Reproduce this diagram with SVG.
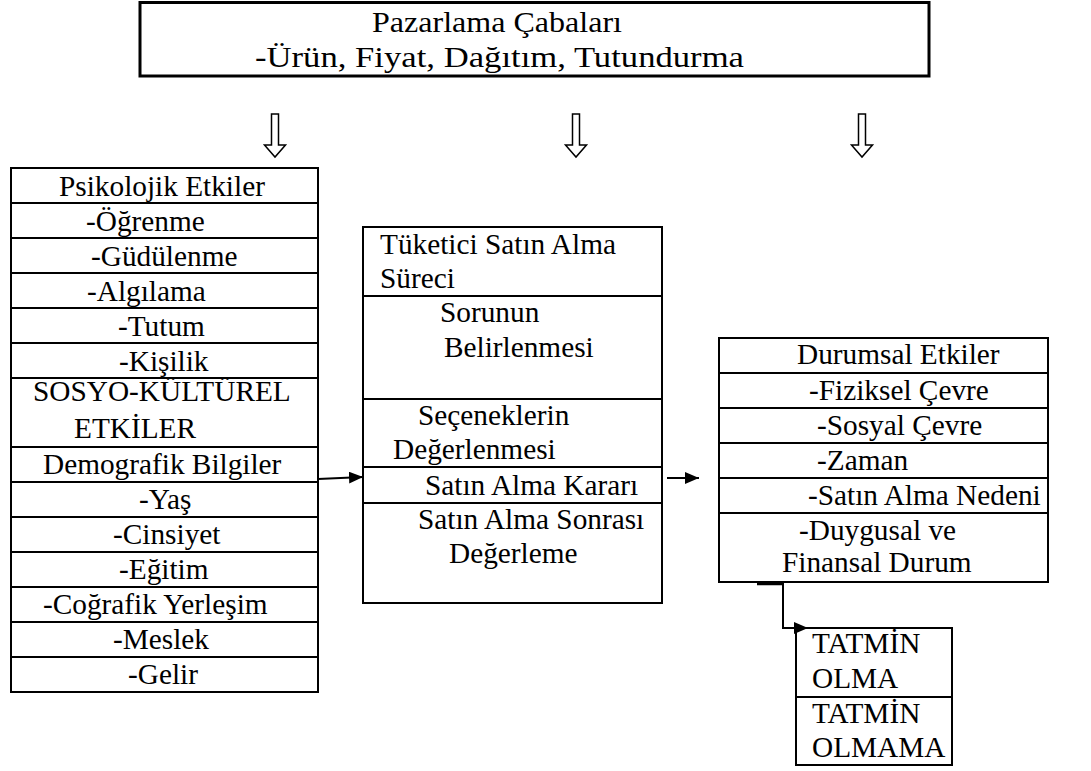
<svg xmlns="http://www.w3.org/2000/svg" width="1091" height="771" viewBox="0 0 1091 771">
  <style>
    text { font-family: 'Liberation Serif', 'Times New Roman', serif; font-size: 29.3px; fill: #000; }
    .box { fill: #fff; stroke: #000; stroke-width: 2; }
    .rule { stroke: #000; stroke-width: 2; fill: none; }
    .hollow { fill: #fff; stroke: #000; stroke-width: 1.5; stroke-linejoin: miter; }
    .conn { stroke: #000; stroke-width: 2; fill: none; }
  </style>
  <defs>
    <marker id="head" viewBox="0 0 14 12" refX="14" refY="6" markerWidth="14" markerHeight="12" markerUnits="userSpaceOnUse" orient="auto">
      <path d="M0,0 L14,6 L0,12 Z" fill="#000"/>
    </marker>
  </defs>

  <rect width="1091" height="771" fill="#fff"/>

  <!-- Marketing efforts header -->
  <g id="pazarlama">
    <rect x="140" y="2.5" width="789" height="73.5" fill="#fff" stroke="#000" stroke-width="3"/>
    <text x="372" y="32" font-size="33" textLength="250" lengthAdjust="spacingAndGlyphs">Pazarlama Çabaları</text>
    <text x="255" y="67" font-size="33" textLength="489" lengthAdjust="spacingAndGlyphs">-Ürün, Fiyat, Dağıtım, Tutundurma</text>
  </g>

  <!-- Hollow downward arrows -->
  <g id="ok1"><path class="hollow" d="M271.5,114 H278.5 V145 H285.5 L275,157 L264.5,145 H271.5 Z"/></g>
  <g id="ok2"><path class="hollow" d="M572.5,114 H579.5 V145 H586.5 L576,157 L565.5,145 H572.5 Z"/></g>
  <g id="ok3"><path class="hollow" d="M858.5,114 H865.5 V145 H872.5 L862,157 L851.5,145 H858.5 Z"/></g>

  <!-- Left table: psychological, socio-cultural and demographic factors -->
  <g id="etkiler-sol">
    <rect class="box" x="11" y="168" width="307" height="524"/>
    <path class="rule" d="M11,203 H318 M11,238 H318 M11,273 H318 M11,308 H318 M11,343 H318 M11,378 H318 M11,447 H318 M11,482 H318 M11,517 H318 M11,552 H318 M11,587 H318 M11,622 H318 M11,657 H318"/>
    <text x="59" y="196">Psikolojik Etkiler</text>
    <text x="86" y="231">-Öğrenme</text>
    <text x="91" y="266">-Güdülenme</text>
    <text x="87" y="301">-Algılama</text>
    <text x="118" y="336">-Tutum</text>
    <text x="119" y="371">-Kişilik</text>
    <text x="33" y="401">SOSYO-KÜLTÜREL</text>
    <text x="74" y="438">ETKİLER</text>
    <text x="43" y="474">Demografik Bilgiler</text>
    <text x="139" y="509">-Yaş</text>
    <text x="113" y="544">-Cinsiyet</text>
    <text x="119" y="579">-Eğitim</text>
    <text x="43" y="614">-Coğrafik Yerleşim</text>
    <text x="113" y="649">-Meslek</text>
    <text x="128" y="684">-Gelir</text>
  </g>

  <!-- Middle table: consumer buying process -->
  <g id="satin-alma-sureci">
    <rect class="box" x="363" y="227" width="299" height="376"/>
    <path class="rule" d="M363,296 H662 M363,399 H662 M363,467 H662 M363,503 H662"/>
    <text x="380" y="254">Tüketici Satın Alma</text>
    <text x="380" y="288">Süreci</text>
    <text x="440" y="322">Sorunun</text>
    <text x="444" y="357">Belirlenmesi</text>
    <text x="418" y="425">Seçeneklerin</text>
    <text x="393" y="459">Değerlenmesi</text>
    <text x="425" y="495">Satın Alma Kararı</text>
    <text x="418" y="529">Satın Alma Sonrası</text>
    <text x="449" y="563">Değerleme</text>
  </g>

  <!-- Right table: situational factors -->
  <g id="durumsal-etkiler">
    <rect class="box" x="719" y="338" width="329" height="244"/>
    <path class="rule" d="M719,373 H1048 M719,408 H1048 M719,443 H1048 M719,478 H1048 M719,513 H1048"/>
    <text x="797" y="364">Durumsal Etkiler</text>
    <text x="809" y="400">-Fiziksel Çevre</text>
    <text x="817" y="435">-Sosyal Çevre</text>
    <text x="817" y="470">-Zaman</text>
    <text x="808" y="505">-Satın Alma Nedeni</text>
    <text x="799" y="540">-Duygusal ve</text>
    <text x="782" y="572">Finansal Durum</text>
  </g>

  <!-- Outcome box -->
  <g id="tatmin">
    <rect class="box" x="796" y="628" width="156" height="137"/>
    <path class="rule" d="M796,697 H952"/>
    <text x="812" y="653">TATMİN</text>
    <text x="812" y="688">OLMA</text>
    <text x="812" y="723">TATMİN</text>
    <text x="812" y="757">OLMAMA</text>
  </g>

  <!-- Connectors -->
  <g id="baglantilar">
    <path class="conn" d="M318,479 L363,477" marker-end="url(#head)"/>
    <path class="conn" d="M667,478 H699" marker-end="url(#head)"/>
    <path class="conn" d="M757,583 H783 V628 H808" marker-end="url(#head)"/>
    <path d="M757,583.5 H783" stroke="#000" stroke-width="3.5"/>
  </g>
</svg>
